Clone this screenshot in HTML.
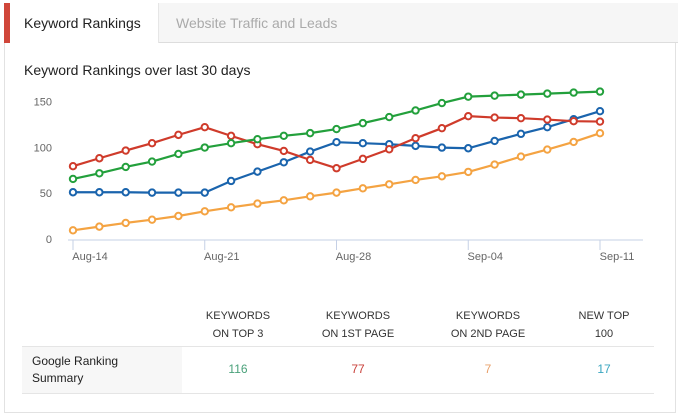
<!DOCTYPE html>
<html><head><meta charset="utf-8"><style>
body{margin:0;width:678px;height:404px;background:#fff;font-family:"Liberation Sans",sans-serif;overflow:hidden;position:relative}
.abs{position:absolute}
.hdr{font-size:11px;color:#333;text-align:center;line-height:18px;width:140px}
.val{font-size:12px;text-align:center;width:140px;top:362px}
</style></head><body>
<div class="abs" style="left:4px;top:3px;width:672px;height:410px;border:1px solid #e2e2e2;box-sizing:border-box"></div>
<div class="abs" style="left:4px;top:3px;width:674px;height:40px;background:#f6f6f6;border-bottom:1px solid #ddd;box-sizing:border-box"></div>
<div class="abs" style="left:4px;top:3px;width:6px;height:40px;background:#d0463a"></div>
<div class="abs" style="left:10px;top:3px;width:149px;height:40px;background:#fff;border-right:1px solid #e6e6e6;font-size:14px;color:#222;line-height:40px;padding-left:14px;box-sizing:border-box">Keyword Rankings</div>
<div class="abs" style="left:176px;top:3px;height:40px;font-size:14px;color:#aaa;line-height:40px">Website Traffic and Leads</div>
<div class="abs" style="left:24px;top:62px;font-size:14px;color:#222">Keyword Rankings over last 30 days</div>
<svg class="abs" style="left:0;top:0" width="678" height="290" id="chart"></svg>
<div class="abs" style="left:22px;top:346px;width:632px;height:1px;background:#e5e5e5"></div>
<div class="abs" style="left:22px;top:393px;width:632px;height:1px;background:#e5e5e5"></div>
<div class="abs" style="left:22px;top:347px;width:160px;height:46px;background:#f7f7f7"></div>
<div class="abs" style="left:32px;top:353px;font-size:12px;color:#222;line-height:17px">Google Ranking<br>Summary</div>
<div class="abs hdr" style="left:168px;top:307px">KEYWORDS<br>ON TOP 3</div>
<div class="abs hdr" style="left:288px;top:307px">KEYWORDS<br>ON 1ST PAGE</div>
<div class="abs hdr" style="left:418px;top:307px">KEYWORDS<br>ON 2ND PAGE</div>
<div class="abs hdr" style="left:534px;top:307px">NEW TOP<br>100</div>
<div class="abs val" style="left:168px;color:#4aa17a">116</div>
<div class="abs val" style="left:288px;color:#c9403a">77</div>
<div class="abs val" style="left:418px;color:#e8a06a">7</div>
<div class="abs val" style="left:534px;color:#3aa6c0">17</div>
<script>
const xLabels=["Aug-14","Aug-21","Aug-28","Sep-04","Sep-11"];
const yTicks=[0,50,100,150];
const green=[65.5,71.7,78.6,84.5,92.8,99.8,104.5,108.9,112.6,115.5,119.9,126.4,133,140.2,148.3,155.3,156.4,157.5,158.6,159.7,160.8];
const red=[79.4,88.1,96.5,104.5,113.6,122,112.5,103.4,96.1,86.3,77.2,87.4,97.9,110,120.9,134,132.5,131.8,130.3,128.5,128.1];
const blue=[51,51,51,50.6,50.6,50.6,63.3,73.5,83.7,95.4,105.6,104.5,103.4,101.6,99.7,99,107,114.7,122,130.7,139.4];
const orange=[9.5,13.5,17.5,21.1,25.1,30.2,34.6,38.6,42.2,46.6,50.6,55.3,59.7,64.4,68.4,73.2,81.2,89.9,97.6,105.9,115.4];
const svg=document.getElementById('chart');
const NS='http://www.w3.org/2000/svg';
const nPts=green.length;
const x=i=>73+i*(600-73)/(nPts-1);
const y=v=>239-v*(239-101.5)/150;
function mk(t,a){const e=document.createElementNS(NS,t);for(const k in a)e.setAttribute(k,a[k]);svg.appendChild(e);return e;}
const ax=mk('line',{x1:68,x2:643,y1:240,y2:240,stroke:'#c5d0e6','stroke-width':1});


yTicks.forEach(t=>{const e=mk('text',{x:52,y:y(t)+4,'text-anchor':'end','font-size':11,fill:'#666','font-family':'Liberation Sans'});e.textContent=t;

});
xLabels.forEach((l,i)=>{const xi=x(i*(nPts-1)/(xLabels.length-1));
const tk=mk('line',{x1:xi,x2:xi,y1:240,y2:250,stroke:'#c5d0e6'});


const e=mk('text',{x:xi+17,y:260,'text-anchor':'middle','font-size':11,fill:'#666','font-family':'Liberation Sans'});e.textContent=l;

});
[[orange,'#f4a342','series-orange'],[blue,'#1a64ad','series-blue'],[red,'#cf3b2b','series-red'],[green,'#23a03c','series-green']].forEach(([d,c,n])=>{
const p=mk('polyline',{points:d.map((v,i)=>x(i)+','+y(v)).join(' '),fill:'none',stroke:c,'stroke-width':2.2});


d.forEach((v,i)=>{const m=mk('circle',{cx:x(i),cy:y(v),r:3.2,fill:'#fff',stroke:c,'stroke-width':2});

});});
</script>
</body></html>
